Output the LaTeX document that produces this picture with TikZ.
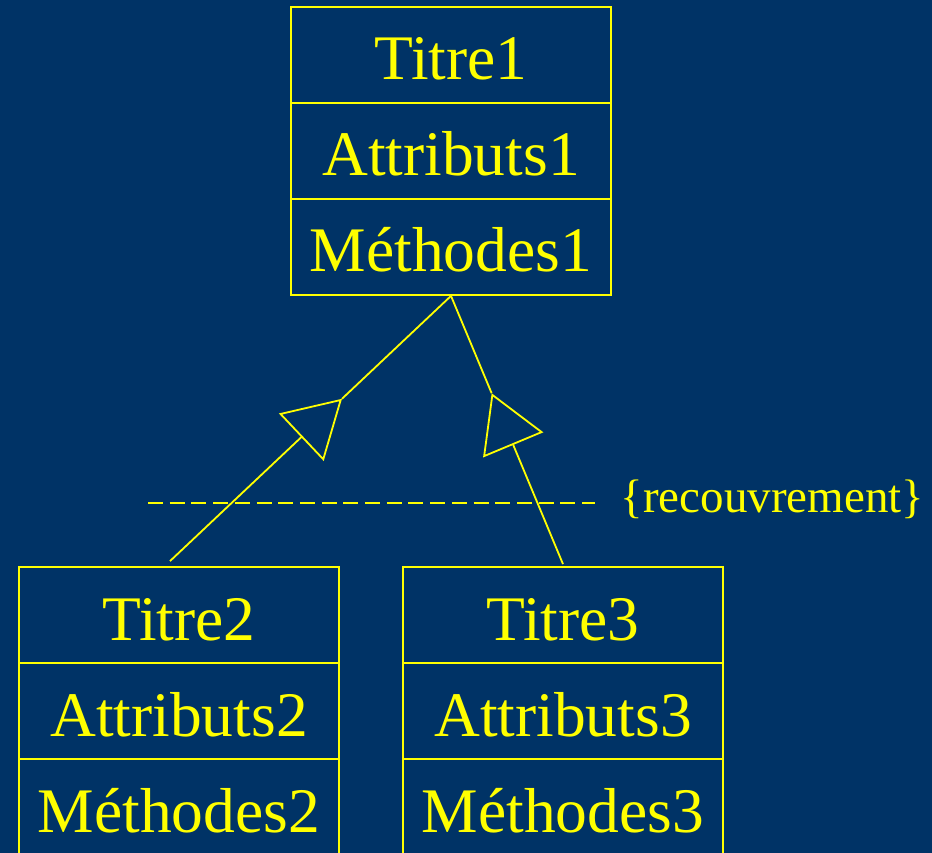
\documentclass[tikz,border=0pt]{standalone}
\usepackage{fontspec}
\setmainfont{Liberation Serif}
\usetikzlibrary{arrows.meta,calc}
\definecolor{bgblue}{RGB}{0,51,102}
\definecolor{umlyellow}{RGB}{255,255,0}
\begin{document}
\begin{tikzpicture}[x=1pt,y=-1pt,
  compart/.style={draw=umlyellow, line width=1.8pt, minimum width=320pt,
    minimum height=96pt, inner sep=0pt, text height=60pt, text depth=10pt,
    text=umlyellow, font=\fontsize{63.5}{63.5}\selectfont},
  link/.style={draw=umlyellow, line width=1.8pt},
  inherit/.style={link, -{Triangle[open, length=56pt, width=65pt]}}
]
% page and background
\fill[bgblue] (0,0) rectangle (932,853);
\useasboundingbox (0,0) rectangle (932,853);
\clip (0,0) rectangle (932,853);

% superclass
\node[compart] (t1) at (451,55)  {Titre1};
\node[compart] (a1) at (451,151) {Attributs1};
\node[compart] (m1) at (451,247) {Méthodes1};

% subclasses
\node[compart] (t2) at (179,615) {Titre2};
\node[compart] (a2) at (179,711) {Attributs2};
\node[compart] (m2) at (179,807) {Méthodes2};

\node[compart] (t3) at (563,615) {Titre3};
\node[compart] (a3) at (563,711) {Attributs3};
\node[compart] (m3) at (563,807) {Méthodes3};

% generalisation links with their open triangles
\coordinate (c2) at ([shift={(-9pt,5pt)}]t2.north);
\coordinate (c3) at ([yshift=2pt]t3.north);
\coordinate (tipL) at ($(c2)!0.612!(m1.south)$);
\coordinate (tipR) at ($(c3)!0.637!(m1.south)$);
\draw[inherit] (c2) -- (tipL);
\draw[link] (tipL) -- (m1.south);
\draw[inherit] (c3) -- (tipR);
\draw[link] (tipR) -- (m1.south);

% overlapping constraint
\node[anchor=base west, inner sep=0pt, text=umlyellow,
      font=\fontsize{47}{47}\selectfont] (rec) at (620.5,512.7) {\{recouvrement\}};
\coordinate (dl) at (148,502.7);
\coordinate (dr) at (595,502.7);
\draw[link, line width=2.2pt, dash pattern=on 15pt off 6.7pt] (dl) -- (dr);
\end{tikzpicture}
\end{document}
